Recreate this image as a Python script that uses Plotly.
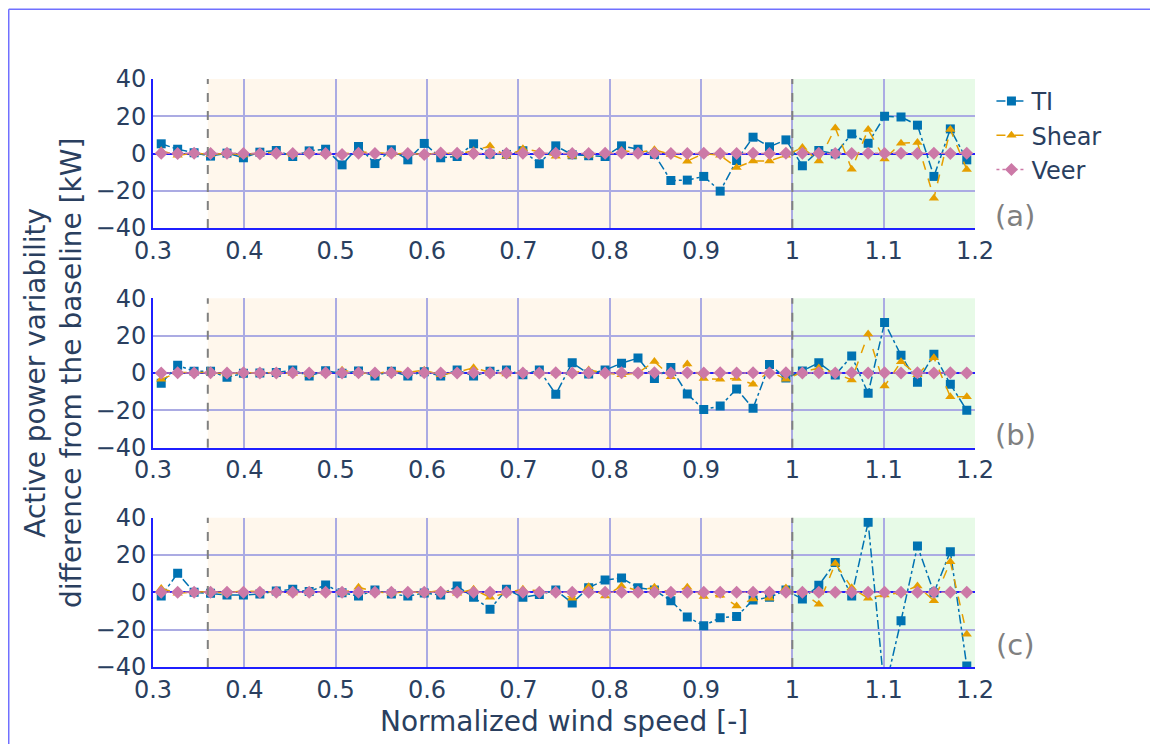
import plotly.graph_objects as go

# Normalized wind speed bins
wind_speed = [0.309, 0.327, 0.345, 0.363, 0.381, 0.399, 0.417, 0.435, 0.453, 0.471,
              0.489, 0.507, 0.525, 0.543, 0.561, 0.579, 0.597, 0.615, 0.633, 0.651,
              0.669, 0.687, 0.705, 0.723, 0.741, 0.759, 0.777, 0.795, 0.813, 0.831,
              0.849, 0.867, 0.885, 0.903, 0.921, 0.939, 0.957, 0.975, 0.993, 1.011,
              1.029, 1.047, 1.065, 1.083, 1.101, 1.119, 1.137, 1.155, 1.173, 1.191]

# Panel (a)
ti_a = [5.2, 2.3, 0.4, -1.4, 0.2, -2.3, 0.7, 1.6, -1.6, 1.4,
        2.3, -6.1, 3.75, -5.4, 2.0, -3.4, 5.4, -2.3, -1.6, 5.2,
        -0.4, -0.5, 1.5, -5.5, 4.1, -0.7, -1.2, -1.6, 4.1, 2.3,
        -0.5, -14.5, -14.3, -12.3, -20.2, -3.75, 8.75, 3.6, 7.3, -6.6,
        1.6, -0.2, 10.5, 5.5, 20.0, 19.6, 15.2, -12.3, 13.2, -3.4]
shear_a = [1.5, -1.0, 0.3, -0.5, 0.2, -0.8, 0.5, 0.3, -0.6, 0.4,
           -0.2, -0.3, 0.8, 0.6, -0.3, 0.2, -0.5, 0.4, -0.3, 1.5,
           4.0, -1.5, 2.5, 1.0, -1.5, -1.5, -1.0, 0.0, 1.6, 0.5,
           2.0, -0.5, -4.1, 0.0, -1.0, -7.5, -4.0, -4.0, -1.0, 3.2,
           -4.0, 13.75, -8.4, 12.9, -3.0, 5.5, 5.9, -24.0, 12.9, -8.6]
veer_a = [0.2, 0.0, 0.1, 0.0, 0.1, 0.0, -0.1, 0.2, 0.0, 0.1,
          0.0, -0.6, 0.1, 0.0, 0.1, 0.0, -0.6, 0.3, 0.1, 0.0,
          0.1, 0.0, 0.2, 0.0, 0.1, 0.0, 0.0, 0.1, 0.3, 0.2,
          0.1, 0.0, 0.0, 0.1, 0.0, 0.0, 0.1, 0.0, 0.1, 0.2,
          0.1, 0.0, 0.0, 0.1, 0.0, 0.1, 0.0, 0.1, 0.0, 0.1]

# Panel (b)
ti_b = [-5.5, 4.1, 1.0, 1.0, -2.3, -0.2, 0.0, 0.2, 1.6, -1.6,
        1.2, -0.2, 1.1, -1.6, 1.0, -1.6, 0.7, -1.6, 1.6, -1.6,
        1.0, 1.6, -1.0, 1.6, -11.4, 5.5, -0.5, 1.6, 5.2, 8.0,
        -3.0, 2.9, -11.3, -19.5, -17.7, -8.6, -18.9, 4.6, -2.7, 1.1,
        5.5, -1.1, 9.1, -10.9, 27.0, 9.5, -5.0, 10.0, -6.0, -20.0]
shear_b = [-3.4, 0.3, 0.2, 0.3, -0.5, 0.2, 0.0, 0.2, -0.3, -0.8,
           0.3, 1.5, 0.2, -0.6, 1.2, 0.3, 1.5, -1.0, 0.5, 2.8,
           0.3, -0.5, 0.3, 0.0, 0.0, 0.0, 1.6, 0.0, -1.0, 0.0,
           6.2, -2.0, 4.8, -3.0, -3.4, -2.9, -6.0, 1.0, -3.4, 0.5,
           2.7, 0.0, -3.75, 20.9, -7.0, 6.0, -1.0, 8.2, -12.7, -12.7]
veer_b = [0.0, 0.1, 0.0, 0.1, 0.0, 0.1, 0.0, 0.0, 0.1, 0.0,
          0.1, 0.0, 0.1, 0.0, 0.1, 0.0, 0.1, 0.0, 0.0, 0.1,
          0.0, 0.1, 0.0, 0.0, 0.1, 0.0, 0.1, 0.0, 0.1, 0.0,
          0.1, 0.0, 0.1, 0.0, 0.1, 0.0, 0.1, 0.0, 0.1, 0.0,
          0.1, 0.0, 0.1, 0.0, 0.1, 0.0, 0.1, 0.0, 0.1, 0.0]

# Panel (c)
ti_c = [-2.0, 10.2, 0.0, -0.5, -1.4, -1.4, -0.9, 0.7, 1.6, 0.4,
        3.9, -0.2, -2.0, 1.2, -0.9, -2.0, -0.4, -1.4, 3.4, -2.7,
        -9.1, 1.6, -2.7, -1.2, 1.2, -5.7, 2.5, 6.6, 7.7, 2.5,
        1.2, -4.5, -13.2, -17.9, -13.6, -13.0, -4.1, -2.7, 1.2, -3.6,
        3.75, 16.0, -2.0, 37.5, -53.0, -15.2, 24.8, -0.2, 21.8, -39.5]
shear_c = [2.0, -0.5, 0.2, 0.3, -0.3, 0.8, 0.3, 0.2, -0.4, 0.5,
           0.2, -0.4, 2.7, 0.3, -0.5, 0.5, -0.3, 1.0, -0.5, 1.6,
           -2.7, -0.3, 1.6, 0.8, 0.5, -3.2, 3.0, -2.0, 3.4, 0.9,
           2.7, -0.2, 2.7, -2.3, -1.6, -7.3, -3.6, -3.2, 2.3, -0.2,
           -6.4, 15.5, 2.5, -3.2, -1.4, -0.2, 3.4, -4.5, 16.4, -22.5]
veer_c = [0.0, 0.0, 0.1, 0.0, 0.1, 0.0, 0.1, 0.0, 0.0, 0.1,
          0.0, 0.1, 0.0, 0.1, 0.0, 0.0, 0.1, 0.0, 0.1, 0.0,
          0.1, 0.0, 0.1, 0.0, 0.0, 0.1, 0.0, 0.1, 0.0, 0.1,
          0.0, 0.1, 0.0, 0.1, 0.0, 0.0, 0.1, 0.0, 0.1, 0.0,
          0.1, 0.0, 0.1, 0.0, 0.1, 0.0, 0.1, 0.0, 0.1, 0.0]

panel_labels = ["(a)", "(b)", "(c)"]
x_ticks = [0.3, 0.4, 0.5, 0.6, 0.7, 0.8, 0.9, 1.0, 1.1, 1.2]
y_ticks = [-40, -20, 0, 20, 40]
region_bounds = [0.36, 1.0, 1.2]

panels = [(ti_a, shear_a, veer_a), (ti_b, shear_b, veer_b), (ti_c, shear_c, veer_c)]
domains = [[0.7466, 1.0], [0.373, 0.627], [0.0, 0.254]]
label_y = [0.7675, 0.395, 0.037]

FONT = "DejaVu Sans"
TXT = "#2a3f5f"
GRID = "#ababe3"
AX = "#1f1fff"

fig = go.Figure()
for k, (ti, sh, ve) in enumerate(panels):
    xa = "x" if k == 0 else f"x{k+1}"
    ya = "y" if k == 0 else f"y{k+1}"
    fig.add_trace(go.Scatter(x=wind_speed, y=ti, name="TI", mode="lines+markers",
                             line=dict(color="#0072B2", dash="dashdot", width=1.5),
                             marker=dict(symbol="square", size=9, color="#0072B2"),
                             legendgroup="TI", showlegend=(k == 0), xaxis=xa, yaxis=ya))
    fig.add_trace(go.Scatter(x=wind_speed, y=sh, name="Shear", mode="lines+markers",
                             line=dict(color="#E69F00", dash="dash", width=1.5),
                             marker=dict(symbol="triangle-up", size=9, color="#E69F00"),
                             legendgroup="Shear", showlegend=(k == 0), xaxis=xa, yaxis=ya))
    fig.add_trace(go.Scatter(x=wind_speed, y=ve, name="Veer", mode="lines+markers",
                             line=dict(color="#CC79A7", dash="dot", width=1.5),
                             marker=dict(symbol="diamond", size=10, color="#CC79A7"),
                             legendgroup="Veer", showlegend=(k == 0), xaxis=xa, yaxis=ya))

    sfx = "" if k == 0 else str(k + 1)
    fig.update_layout(**{
        f"xaxis{sfx}": dict(domain=[0, 1], anchor=ya, range=[0.3, 1.2], tickvals=x_ticks,
                            showgrid=True, gridcolor=GRID, gridwidth=1.5, zeroline=False,
                            showline=True, linecolor=AX, linewidth=2,
                            tickfont=dict(family=FONT, size=24, color=TXT)),
        f"yaxis{sfx}": dict(domain=domains[k], anchor=xa, range=[-40, 40], tickvals=y_ticks,
                            showgrid=True, gridcolor=GRID, gridwidth=1.5,
                            zeroline=True, zerolinecolor=AX, zerolinewidth=1.5,
                            showline=True, linecolor=AX, linewidth=2,
                            tickfont=dict(family=FONT, size=24, color=TXT)),
    })

    fig.add_shape(type="rect", xref=xa, yref=f"{ya} domain",
                  x0=region_bounds[0], x1=region_bounds[1], y0=0, y1=1,
                  fillcolor="#FFF7EC", line=dict(width=0), layer="below")
    fig.add_shape(type="rect", xref=xa, yref=f"{ya} domain",
                  x0=region_bounds[1], x1=region_bounds[2], y0=0, y1=1,
                  fillcolor="#E7FAE7", line=dict(width=0), layer="below")
    for xv in region_bounds[:2]:
        fig.add_shape(type="line", xref=xa, yref=f"{ya} domain",
                      x0=xv, x1=xv, y0=0, y1=1,
                      line=dict(color="#808080", dash="dash", width=2))

    fig.add_annotation(text=panel_labels[k], xref="paper", yref="paper",
                       x=1.0487, y=label_y[k], xanchor="center", yanchor="middle",
                       showarrow=False, font=dict(family=FONT, size=29, color="#808080"))

fig.add_annotation(text="Active power variability<br>difference from the baseline [kW]",
                   xref="paper", yref="paper", x=-0.1217, y=0.5, textangle=-90,
                   xanchor="center", yanchor="middle",
                   showarrow=False, font=dict(family=FONT, size=28, color=TXT))
fig.add_annotation(text="Normalized wind speed [-]", xref="paper", yref="paper",
                   x=0.5, y=-0.0935, xanchor="center", yanchor="middle", showarrow=False,
                   font=dict(family=FONT, size=28, color=TXT))

# outer frame: left and top edges only
FRAME_X, FRAME_Y = -0.1755, 1.1185
fig.add_shape(type="line", xref="paper", yref="paper",
              x0=FRAME_X, x1=FRAME_X, y0=-0.2, y1=FRAME_Y,
              line=dict(color="#7070ff", width=1.5))
fig.add_shape(type="line", xref="paper", yref="paper",
              x0=FRAME_X, x1=1.3, y0=FRAME_Y, y1=FRAME_Y,
              line=dict(color="#7070ff", width=1.5))

fig.update_layout(
    width=1142, height=736,
    margin=dict(l=145, r=175, t=71, b=77),
    paper_bgcolor="white", plot_bgcolor="white",
    font=dict(family=FONT, color=TXT),
    legend=dict(x=1.02, y=1.0, xanchor="left", yanchor="top", tracegroupgap=0,
                font=dict(family=FONT, size=24, color=TXT), bgcolor="rgba(0,0,0,0)"),
)

fig.write_html("out.html")
